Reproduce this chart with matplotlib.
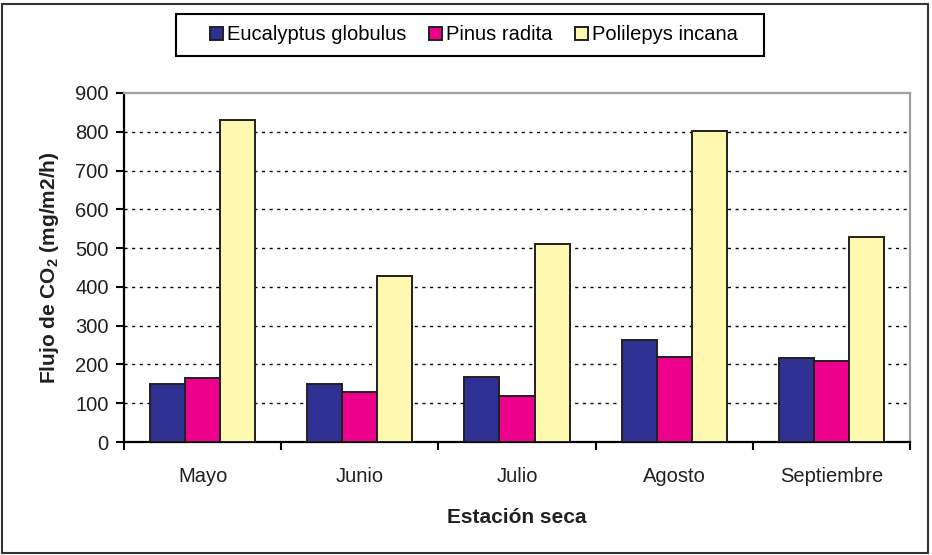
import matplotlib
matplotlib.use("Agg")
import matplotlib.pyplot as plt
import numpy as np
from matplotlib.patches import Rectangle

months = ["Mayo", "Junio", "Julio", "Agosto", "Septiembre"]
series_names = ["Eucalyptus globulus", "Pinus radita", "Polilepys incana"]
eucalyptus = [150, 150, 168, 263, 217]
pinus = [165, 130, 119, 218, 209]
polilepys = [831, 429, 510, 801, 529]
yticks = [0, 100, 200, 300, 400, 500, 600, 700, 800, 900]

plt.rcParams['font.family'] = ['Liberation Sans', 'DejaVu Sans']
plt.rcParams['mathtext.fontset'] = 'custom'
plt.rcParams['mathtext.rm'] = 'Liberation Sans'
plt.rcParams['mathtext.bf'] = 'Liberation Sans:bold'

colors = ["#2E3192", "#EC008C", "#FFF8B0"]
edge = "#231F20"

fig = plt.figure(figsize=(9.32, 5.55), dpi=100)
ax = fig.add_axes([124/932, 1-442/555, (910-124)/932, (442-93)/555])

x = np.arange(len(months))
w = 0.223
for i, (vals, name) in enumerate(zip([eucalyptus, pinus, polilepys], series_names)):
    ax.bar(x + (i-1)*w, vals, width=w, color=colors[i], edgecolor=edge,
           linewidth=1.4, label=name, zorder=3)

ax.set_xlim(-0.5, len(months)-0.5)
ax.set_ylim(0, 900)
ax.set_yticks(yticks)
ax.set_yticklabels([str(v) for v in yticks], fontsize=14.5, color='#231F20')
ax.set_xticks(x)
ax.set_xticklabels(months, fontsize=14.5, color='#231F20')
ax.tick_params(axis='x', length=0, pad=18)
ax.set_xticks(np.arange(-0.5, len(months), 1), minor=True)
ax.tick_params(axis='x', which='minor', length=6, width=1.5, direction='out', color='black')
ax.tick_params(axis='y', length=6, width=1.5, direction='out', pad=5)

for v in yticks[1:-1]:
    ax.axhline(v, color='black', linestyle=(0, (2.2, 3.3)), linewidth=1.0, zorder=1)

ax.spines['left'].set_linewidth(1.6)
ax.spines['bottom'].set_linewidth(1.6)
ax.spines['top'].set_color('#A0A0A0')
ax.spines['right'].set_color('#A0A0A0')
ax.spines['top'].set_linewidth(1.6)
ax.spines['right'].set_linewidth(1.6)

ax.set_xlabel("Estación seca", fontsize=15, fontweight='bold', labelpad=16, color='#231F20')
ax.set_ylabel(r"Flujo de CO$_\mathbf{2}$ (mg/m2/h)", fontsize=15, fontweight='bold',
              labelpad=10, color='#231F20')

leg = fig.legend(loc='center', bbox_to_anchor=(474/932, 1-35/555), ncol=3, fontsize=14.5,
                 frameon=False, handlelength=0.65,
                 handleheight=0.65, handletextpad=0.2, columnspacing=1.1,
                 borderpad=0.3)

fig.patches.append(Rectangle((176/932, 1-56/555), (764-176)/932, 42/555, transform=fig.transFigure,
                             fill=False, edgecolor='black', linewidth=1.5))
fig.patches.append(Rectangle((2/932, 2/555), 926/932, 549/555, transform=fig.transFigure,
                             fill=False, edgecolor='#333333', linewidth=1.5))

fig.savefig("out.png", dpi=100)
